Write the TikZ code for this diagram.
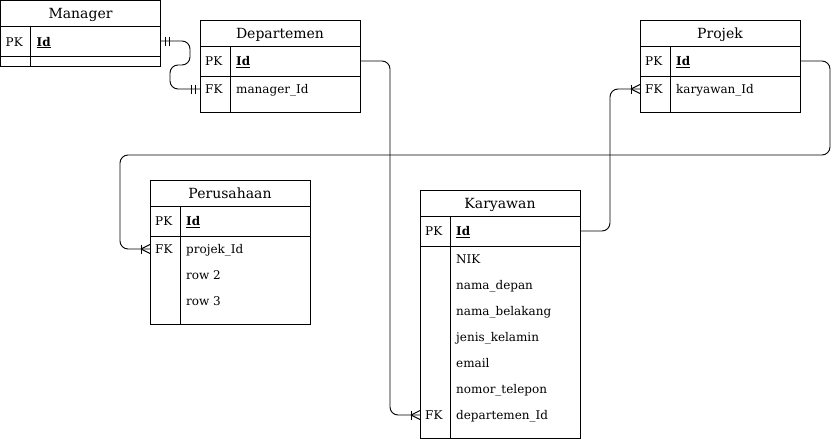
\documentclass[tikz,border=0pt]{standalone}
\usepackage{fontspec}
\setmainfont{DejaVu Serif}
\tikzset{
  tbl/.style={draw, line width=0.9pt, minimum width=160pt, inner sep=0pt, outer sep=0pt, anchor=north west},
  ttl/.style={font=\fontsize{14}{16}\selectfont, anchor=base, inner sep=0pt},
  fld/.style={font=\fontsize{12}{14}\selectfont, anchor=base west, inner sep=0pt},
  conn/.style={draw, line width=0.9pt, rounded corners=8pt},
  mk/.style={draw, line width=0.9pt},
}
% name, x, y, title, number of extra rows
\newcommand\ertable[5]{%
  \pgfmathsetmacro\erH{66+26*#5}%
  \node[tbl, minimum height=\erH pt] (#1) at (#2,#3) {};
  \draw[mk] (#2,#3+26) -- (#2+160,#3+26);
  \draw[mk] (#2,#3+56) -- (#2+160,#3+56);
  \draw[mk] (#2+30,#3+26) -- (#2+30,#3+\erH);
  \node[ttl] (#1-title) at (#2+80,#3+18) {#4};
  \node[fld] (#1-pk) at (#2+5,#3+45.5) {PK};
  \node[fld] (#1-id) at (#2+36,#3+45.5) {\underline{\textbf{Id}}};
}
% table x, table y, row index (1..), key, text
\newcommand\errow[5]{%
  \node[fld] at (#1+5,#2+56+26*#3-13+4.5) {#4};
  \node[fld] at (#1+36,#2+56+26*#3-13+4.5) {#5};
}
\newcommand\crowfoot[1]{% entity edge point, line comes from the left
  \draw[mk] ($(#1)+(-9,0)$) -- ($(#1)+(0,-4.5)$);
  \draw[mk] ($(#1)+(-9,0)$) -- ($(#1)+(0,4.5)$);
  \draw[mk] ($(#1)+(-9,-4.5)$) -- ($(#1)+(-9,4.5)$);
}
\newcommand\onebars[2]{% point, direction (+1 right, -1 left)
  \draw[mk] ($(#1)+(#2*4.5,-4.5)$) -- ($(#1)+(#2*4.5,4.5)$);
  \draw[mk] ($(#1)+(#2*8.5,-4.5)$) -- ($(#1)+(#2*8.5,4.5)$);
}
\usetikzlibrary{calc}
\begin{document}
\begin{tikzpicture}[x=1pt,y=-1pt]
\useasboundingbox (0,0) rectangle (839,439);
\fill[white] (0,0) rectangle (839,439);

% Manager
\ertable{mgr}{0.5}{0.5}{Manager}{0}
% Departemen
\ertable{dep}{200}{20}{Departemen}{1}
\errow{200}{20}{1}{FK}{manager\_Id}
% Projek
\ertable{proj}{640}{20}{Projek}{1}
\errow{640}{20}{1}{FK}{karyawan\_Id}
% Perusahaan
\ertable{per}{150}{180}{Perusahaan}{3}
\errow{150}{180}{1}{FK}{projek\_Id}
\errow{150}{180}{2}{}{row 2}
\errow{150}{180}{3}{}{row 3}
% Karyawan
\ertable{kar}{420}{190}{Karyawan}{7}
\errow{420}{190}{1}{}{NIK}
\errow{420}{190}{2}{}{nama\_depan}
\errow{420}{190}{3}{}{nama\_belakang}
\errow{420}{190}{4}{}{jenis\_kelamin}
\errow{420}{190}{5}{}{email}
\errow{420}{190}{6}{}{nomor\_telepon}
\errow{420}{190}{7}{FK}{departemen\_Id}

% connection points
\coordinate (mgrPK) at (160.5,41);
\coordinate (depFK) at (200,89);
\coordinate (depPK) at (360,61);
\coordinate (karFK) at (420,415);
\coordinate (karPK) at (580,231);
\coordinate (projFK) at (640,89);
\coordinate (projPK) at (800,61);
\coordinate (perFK) at (150,249);

% connectors
\draw[conn] (mgrPK) -- (190,41) -- (190,65) -- (170,65) -- (170,89) -- (depFK);
\onebars{mgrPK}{1}
\onebars{depFK}{-1}

\draw[conn] (depPK) -- (390,61) -- (390,415) -- (karFK);
\crowfoot{karFK}

\draw[conn] (karPK) -- (610,231) -- (610,89) -- (projFK);
\crowfoot{projFK}

\draw[conn] (projPK) -- (830,61) -- (830,155) -- (120,155) -- (120,249) -- (perFK);
\crowfoot{perFK}
\end{tikzpicture}
\end{document}
